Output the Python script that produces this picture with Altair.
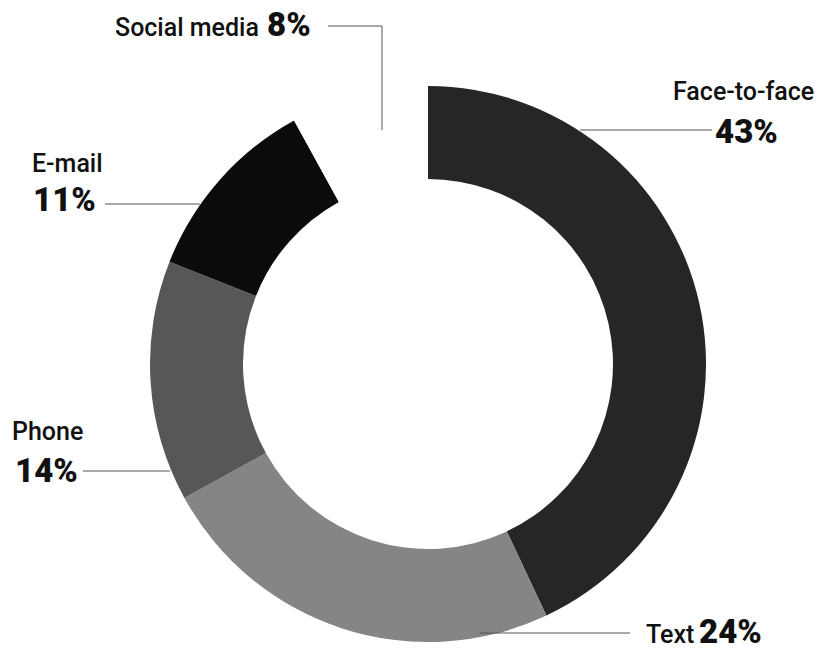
import altair as alt
import pandas as pd

# Data
categories = ["Face-to-face", "Text", "Phone", "E-mail", "Social media"]
values = [43, 24, 14, 11, 8]
pct_labels = ["43%", "24%", "14%", "11%", "8%"]
colors = ["#262626", "#858585", "#575757", "#0b0b0b", "#ffffff"]

df = pd.DataFrame({
    "category": categories,
    "value": values,
    "order": list(range(len(categories))),
})

# Annotation layout (chart pixel coordinates)
OFF = 8
name_pos = {
    "Face-to-face": (673, 100),
    "Text": (646, 643),
    "Phone": (12, 440),
    "E-mail": (32, 172),
    "Social media": (115, 36),
}
pct_pos = {
    "Face-to-face": (715, 143),
    "Text": (699, 643),
    "Phone": (15, 482),
    "E-mail": (33, 211),
    "Social media": (267, 36),
}
names_df = pd.DataFrame({
    "label": categories,
    "x": [name_pos[c][0] - OFF for c in categories],
    "y": [name_pos[c][1] - OFF for c in categories],
})
pcts_df = pd.DataFrame({
    "label": pct_labels,
    "x": [pct_pos[c][0] - OFF for c in categories],
    "y": [pct_pos[c][1] - OFF for c in categories],
})
segs = [
    (328, 26, 382, 26),
    (382, 26, 382, 130),
    (580, 130, 712, 130),
    (105, 204, 200, 204),
    (83, 471, 170, 471),
    (480, 633, 630, 633),
]
lines_df = pd.DataFrame({
    "x": [s[0] - OFF for s in segs],
    "y": [s[1] - OFF for s in segs],
    "x2": [s[2] - OFF for s in segs],
    "y2": [s[3] - OFF for s in segs],
})

FONT = "Roboto"

arc = alt.Chart(df).mark_arc(innerRadius=185, outerRadius=278).encode(
    theta=alt.Theta("value:Q", stack=True),
    color=alt.Color("category:N", scale=alt.Scale(domain=categories, range=colors), legend=None),
    order=alt.Order("order:Q"),
    x=alt.value(428 - OFF),
    y=alt.value(364 - OFF),
)

lines = alt.Chart(lines_df).mark_rule(color="#555555", strokeWidth=1).encode(
    x=alt.X("x:Q", scale=None),
    y=alt.Y("y:Q", scale=None),
    x2="x2:Q",
    y2="y2:Q",
)

names = alt.Chart(names_df).mark_text(
    font=FONT, fontSize=25, fontWeight=500, color="#111111",
    align="left", baseline="alphabetic",
).encode(
    x=alt.X("x:Q", scale=None),
    y=alt.Y("y:Q", scale=None),
    text="label:N",
)

pcts = alt.Chart(pcts_df).mark_text(
    font=FONT, fontSize=33, fontWeight=900, color="#111111",
    align="left", baseline="alphabetic",
).encode(
    x=alt.X("x:Q", scale=None),
    y=alt.Y("y:Q", scale=None),
    text="label:N",
)

chart = alt.layer(arc, lines, names, pcts).properties(
    width=806,
    height=636,
    padding=0,
    autosize=alt.AutoSizeParams(type="fit", contains="padding"),
    background="#ffffff",
).configure_view(stroke=None)

chart.save("out.html", embed_options={"renderer": "svg", "actions": False})
